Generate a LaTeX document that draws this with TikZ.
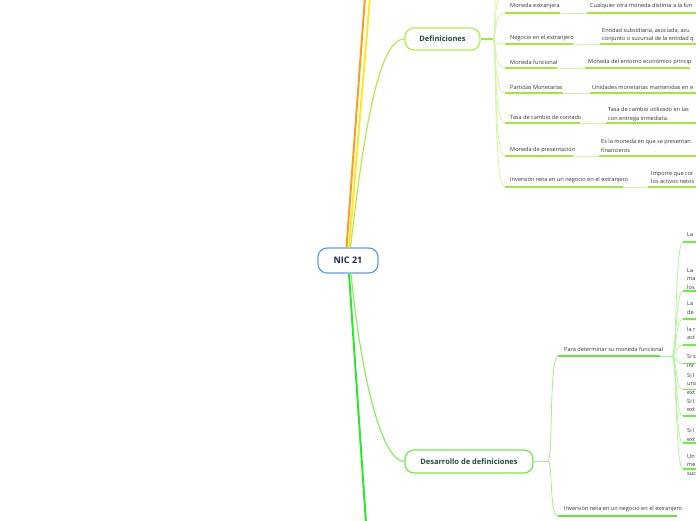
\documentclass[tikz,border=0pt]{standalone}
\usepackage{fontspec}
\setmainfont{Open Sans}
\definecolor{nicBorder}{HTML}{5AA0E6}
\definecolor{nicText}{HTML}{1C2A4A}
\definecolor{defBorder}{HTML}{B2EE4E}
\definecolor{nodeText}{HTML}{1E4D3A}
\definecolor{desBorder}{HTML}{72E84A}
\definecolor{orangeL}{HTML}{FF9C22}
\definecolor{yellowL}{HTML}{FDE92A}
\definecolor{defLink}{HTML}{B6EA4A}
\definecolor{desLink}{HTML}{8EEC5E}
\definecolor{greenMain}{HTML}{2EE62E}
\definecolor{defUL}{HTML}{A3E63C}
\definecolor{defConn}{HTML}{D2F5A0}
\definecolor{paraUL}{HTML}{5EE63A}
\definecolor{desConn}{HTML}{A6F08A}
\definecolor{childUL}{HTML}{6CF040}
\definecolor{childConn}{HTML}{B2F59A}
\definecolor{txtgray}{HTML}{333333}
\tikzset{
  txt/.style={inner sep=0pt, anchor=west, font=\fontsize{5.6}{8.5}\selectfont, text=txtgray, align=left},
  mainbox/.style={rounded corners=9pt, line width=1.2pt, fill=white, font=\bfseries\fontsize{7.5}{8.5}\selectfont, text=nodeText, inner sep=0pt},
  ulA/.style={draw=defUL, line width=1.6pt},
  cnA/.style={draw=defConn, line width=0.8pt},
  ulB/.style={draw=paraUL, line width=1.6pt},
  cnB/.style={draw=desConn, line width=0.8pt},
  ulC/.style={draw=childUL, line width=1.6pt},
  cnC/.style={draw=childConn, line width=0.8pt},
}
\begin{document}
\begin{tikzpicture}[x=1pt,y=-1pt]
\useasboundingbox (0,0) rectangle (696,520);
\clip (0,0) rectangle (696,520);

% ---------- main nodes ----------
\node[mainbox, draw=nicBorder, text=nicText, font=\bfseries\fontsize{9}{10}\selectfont, minimum width=60pt, minimum height=25pt] (nic) at (348,260.5) {NIC 21};
\node[mainbox, draw=defBorder, minimum width=75pt, minimum height=22pt] (def) at (442.5,39) {Definiciones};
\node[mainbox, draw=desBorder, minimum width=128pt, minimum height=23pt] (des) at (469,461.5) {Desarrollo de definiciones};

% ---------- lines from NIC 21 ----------
\coordinate (topO) at (365,-3);
\coordinate (topY) at (370,-3);
\coordinate (botG) at (366,523);
\draw[orangeL, line width=2pt] ([xshift=-1.5pt]nic.north) -- (topO);
\draw[yellowL, line width=2pt] ([xshift=1pt]nic.north) -- (topY);
\draw[defLink, line width=1.2pt] ([xshift=2.5pt]nic.north) .. controls (365,120) and (380,39) .. (def.west);
\draw[greenMain, line width=2pt] ([xshift=1pt]nic.south) -- (botG);
\draw[desLink, line width=1.2pt] ([xshift=3pt]nic.south) .. controls (362,385) and (383,461.5) .. (des.west);

% ---------- Definiciones children ----------
\coordinate (dtr) at (493,39);
\draw[defUL, line width=1.6pt] (def.east) -- (dtr);
\coordinate (up1) at (505,-14);
\coordinate (up2) at (505,-40);
\draw[defConn, line width=0.8pt] (dtr) .. controls (497,39) and (493,-14) .. (up1);
\draw[defConn, line width=0.8pt] (dtr) .. controls (497,39) and (491,-40) .. (up2);

% 1 Moneda extranjera
\coordinate (a1s) at (505,13); \coordinate (a1e) at (560,13); \coordinate (b1s) at (587,13); \coordinate (b1e) at (700,13);
\node[txt] (a1) at (510,6.5) {Moneda extranjera};
\node[txt] (b1) at (590,6.5) {Cualquier otra moneda distinta a la fun};
% 2 Negocio en el extranjero
\coordinate (a2s) at (505,44); \coordinate (a2e) at (573,44); \coordinate (b2s) at (600,44); \coordinate (b2e) at (700,44);
\node[txt] (a2) at (510,38.5) {Negocio en el extranjero};
\node[txt] (b2) at (602,35) {Entidad subsidiaria, asociada, acu\\conjunto o sucursal de la entidad q};
% 3 Moneda funcional
\coordinate (a3s) at (505,68); \coordinate (a3e) at (557,68); \coordinate (b3s) at (585,68); \coordinate (b3e) at (690,68);
\node[txt] (a3) at (510,62) {Moneda funcional};
\node[txt] (b3) at (588,62) {Moneda del entorno económico princip};
% 4 Partidas Monetarias
\coordinate (a4s) at (505,93); \coordinate (a4e) at (563,93); \coordinate (b4s) at (590,93); \coordinate (b4e) at (700,93);
\node[txt] (a4) at (510,87) {Partidas Monetarias};
\node[txt] (b4) at (592,87) {Unidades monetarias mantenidas en e};
% 5 Tasa de cambio de contado
\coordinate (a5s) at (505,123); \coordinate (a5e) at (580,123); \coordinate (b5s) at (606,123); \coordinate (b5e) at (700,123);
\node[txt] (a5) at (510,117.5) {Tasa de cambio de contado};
\node[txt] (b5) at (608,114.5) {Tasa de cambio utilizado en las\\con entrega inmediata.};
% 6 Moneda de presentacion
\coordinate (a6s) at (505,156); \coordinate (a6e) at (573,156); \coordinate (b6s) at (599,156); \coordinate (b6e) at (700,156);
\node[txt] (a6) at (510,150) {Moneda de presentación};
\node[txt] (b6) at (601,146) {Es la moneda en que se presentan\\financieros};
% 7 Inversion neta
\coordinate (a7s) at (505,187); \coordinate (a7e) at (623,187); \coordinate (b7s) at (648,187); \coordinate (b7e) at (700,187);
\node[txt] (a7) at (510,180.5) {Inversión neta en un negocio en el extranjero};
\node[txt] (b7) at (651,177.5) {Importe que cor\\los activos netos};

\foreach \i in {1,...,7}{
  \draw[cnA] (dtr) .. controls (497,39) and (493,0|-a\i s) .. (a\i s);
  \draw[ulA] (a\i s) -- (a\i e);
  \draw[cnA] (a\i e) -- (b\i s);
  \draw[ulA] (b\i s) -- (b\i e);
}

% ---------- Desarrollo children ----------
\coordinate (dstr) at (548,461.5);
\draw[desConn, line width=1.2pt] (des.east) -- (dstr);
\coordinate (p0s) at (558,356); \coordinate (p0e) at (660,356); \coordinate (pstr) at (672,356);
\node[txt] (p0) at (564,349.5) {Para determinar su moneda funcional};
\coordinate (q0s) at (558,516); \coordinate (q0e) at (677,516);
\node[txt] (q0) at (564,509.5) {Inversión neta en un negocio en el extranjero};
\draw[cnB] (dstr) .. controls (553,461.5) and (549,356) .. (p0s);
\draw[cnB] (dstr) .. controls (553,461.5) and (549,516) .. (q0s);
\draw[ulB] (p0s) -- (p0e);
\draw[cnB] (p0e) -- (pstr);
\draw[ulB] (q0s) -- (q0e);

% ---------- children of "Para determinar" ----------
\node[txt] (c1) at (687,235) {La};
\node[txt] (c2) at (687,279) {La\\ma\\los};
\node[txt] (c3) at (687,308) {La\\de};
\node[txt] (c4) at (687,333.5) {la r\\act};
\node[txt] (c5) at (687,361) {Si s\\inf};
\node[txt] (c6) at (687,383.5) {Si l\\una\\ext};
\node[txt] (c7) at (687,405.5) {Si l\\ext};
\node[txt] (c8) at (687,435) {Si l\\ext};
\node[txt] (c9) at (687,465) {Un\\me\\suc};
\foreach \i/\y in {1/242,2/291,3/319,4/345,5/363.5,6/389.5,7/416,8/443,9/469}{
  \coordinate (c\i s) at (683,\y);
  \coordinate (c\i e) at (700,\y);
  \draw[cnC] (pstr) .. controls (677,356) and (675,\y) .. (c\i s);
  \draw[ulC] (c\i s) -- (c\i e);
}
\end{tikzpicture}
\end{document}
